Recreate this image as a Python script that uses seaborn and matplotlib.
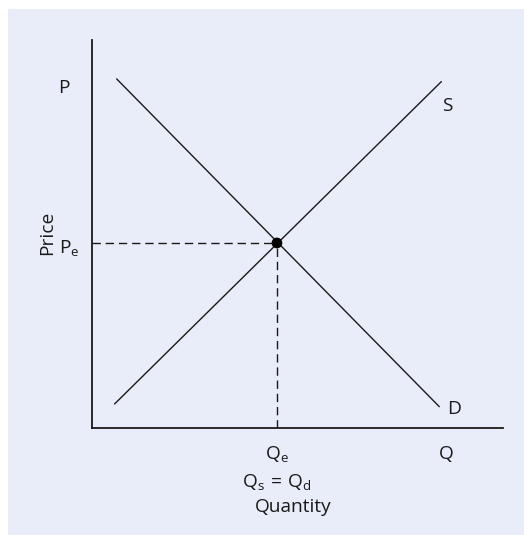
import numpy as np
import pandas as pd
import matplotlib
matplotlib.use("Agg")
import matplotlib.pyplot as plt
import seaborn as sns
from matplotlib.patches import Rectangle

# demand / supply end points (quantity, price) on a 0..10 scale
demand_q = [0.60, 8.45]
demand_p = [9.00, 0.55]
supply_q = [0.55, 8.50]
supply_p = [0.62, 8.93]

# equilibrium
eq_q = [4.50]
eq_p = [4.77]

BG = "#e9edf9"
FONT = ["Open Sans", "DejaVu Sans"]


def make_frames():
    demand = pd.DataFrame({"q": demand_q, "p": demand_p})
    supply = pd.DataFrame({"q": supply_q, "p": supply_p})
    eq = pd.DataFrame({"q": eq_q, "p": eq_p})
    return demand, supply, eq


def draw():
    sns.set_style("white")
    plt.rcParams["font.family"] = FONT
    plt.rcParams["mathtext.fontset"] = "custom"
    plt.rcParams["mathtext.rm"] = "Open Sans"
    plt.rcParams["mathtext.it"] = "Open Sans"

    demand, supply, eq = make_frames()

    fig = plt.figure(figsize=(5.24, 5.35), dpi=100)
    fig.patch.set_facecolor("white")
    # light panel behind the chart
    fig.patches.append(Rectangle((8 / 524, -0.01), 1.01, 1.01 - 9 / 535,
                                 transform=fig.transFigure,
                                 facecolor=BG, edgecolor="none", zorder=-10))

    ax = fig.add_axes([92 / 524, 0.2, 411 / 524, 0.725])
    ax.set_facecolor("none")
    ax.set_zorder(5)

    sns.lineplot(x="q", y="p", data=demand, color="#1a1a1a", linewidth=1.0, ax=ax)
    sns.lineplot(x="q", y="p", data=supply, color="#1a1a1a", linewidth=1.0, ax=ax)

    # dashed guides to the axes
    ax.plot([0, eq_q[0]], [eq_p[0], eq_p[0]], color="#1a1a1a", linewidth=1.0,
            dashes=(6, 3.5))
    ax.plot([eq_q[0], eq_q[0]], [0, eq_p[0]], color="#1a1a1a", linewidth=1.0,
            dashes=(6, 3.5))

    sns.scatterplot(x="q", y="p", data=eq, color="black", s=60, edgecolor="none",
                    ax=ax, zorder=5)

    ax.set_xlim(0, 10)
    ax.set_ylim(0, 10)
    ax.set_xticks([])
    ax.set_yticks([])
    ax.set_xlabel("")
    ax.set_ylabel("")
    for side in ["top", "right"]:
        ax.spines[side].set_visible(False)
    for side in ["left", "bottom"]:
        ax.spines[side].set_color("#1a1a1a")
        ax.spines[side].set_linewidth(1.3)

    fs = 13.8
    kw = dict(fontsize=fs, color="#1a1a1a", clip_on=False)
    ax.text(-0.83, 8.63, "P", ha="left", va="baseline", **kw)
    ax.text(8.52, 8.17, "S", ha="left", va="baseline", **kw)
    ax.text(8.64, 0.36, "D", ha="left", va="baseline", **kw)
    ax.text(-0.80, 4.51, r"$\mathregular{P_e}$", ha="left", va="baseline", **kw)
    ax.text(-1.09, 5.03, "Price", ha="center", va="center", rotation=90, **kw)
    ax.text(8.44, -0.80, "Q", ha="left", va="baseline", **kw)
    ax.text(4.21, -0.80, r"$\mathregular{Q_e}$", ha="left", va="baseline", **kw)
    ax.text(3.65, -1.52, r"$\mathregular{Q_s\,=\,Q_d}$", ha="left", va="baseline", **kw)
    ax.text(3.97, -2.16, "Quantity", ha="left", va="baseline", **kw)

    fig.savefig("out.png", dpi=100, facecolor=fig.get_facecolor())


if __name__ == "__main__":
    draw()
